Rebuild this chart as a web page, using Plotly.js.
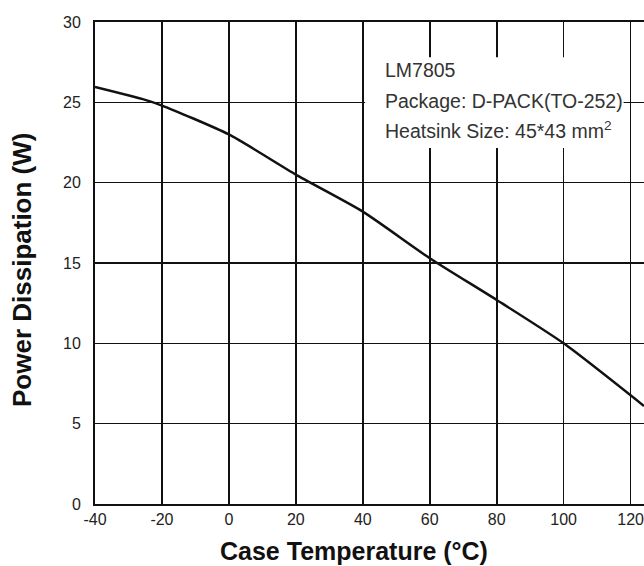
<!DOCTYPE html>
<html>
<head>
<meta charset="utf-8">
<script src="https://cdn.plot.ly/plotly-3.0.1.min.js"></script>
<style>html,body{margin:0;padding:0;background:#fff;}#chart{width:644px;height:566px;}</style>
</head>
<body>
<div id="chart"></div>
<script>
// Data
const caseTemperature = [-40, -25, -20, 0, 20, 40, 60, 80, 100, 124];
const powerDissipation = [25.95, 25.15, 24.8, 23.0, 20.5, 18.2, 15.3, 12.7, 10.0, 6.1];
const xTickValues = [-40, -20, 0, 20, 40, 60, 80, 100, 120];
const yTickValues = [0, 5, 10, 15, 20, 25, 30];
const infoLines = ["LM7805", "Package: D-PACK(TO-252)", "Heatsink Size: 45*43 mm<sup>2</sup>"];

const sans = '"Liberation Sans", Arial, sans-serif';

const L = 95, R = 0, T = 22, B = 62, W = 644, H = 566;
const pw = W - L - R, ph = H - T - B;

const trace = {
  x: caseTemperature, y: powerDissipation, type: 'scatter', mode: 'lines',
  line: {color: '#111', width: 2.5, shape: 'spline', smoothing: 0.6},
  hoverinfo: 'skip', showlegend: false
};

const infoY = [27.0, 25.1, 23.25];
const annotations = infoLines.map((t, i) => ({
  x: 46, y: infoY[i], xref: 'x', yref: 'y', text: t, showarrow: false,
  xanchor: 'left', yanchor: 'middle', align: 'left',
  font: {family: sans, size: 19.5, color: '#333'}
}));
annotations.push({
  x: (354 - L) / pw, y: (H - B - 551) / ph, xref: 'paper', yref: 'paper',
  xanchor: 'center', yanchor: 'middle',
  text: '<b>Case Temperature (°C)</b>', showarrow: false,
  font: {family: sans, size: 25, color: '#111'}
});
annotations.push({
  x: (22 - L) / pw, y: (H - B - 270) / ph, xref: 'paper', yref: 'paper',
  xanchor: 'center', yanchor: 'middle',
  text: '<b>Power Dissipation (W)</b>', showarrow: false, textangle: -90,
  font: {family: sans, size: 26, color: '#111'}
});

const layout = {
  width: W, height: H,
  margin: {l: L, r: R, t: T, b: B, pad: 0},
  paper_bgcolor: '#fff', plot_bgcolor: '#fff',
  showlegend: false,
  xaxis: {
    range: [-40, 124], tickvals: xTickValues, ticktext: xTickValues.map(String),
    showgrid: true, gridcolor: '#111', gridwidth: 1.6,
    showline: true, linecolor: '#111', linewidth: 2, mirror: true,
    zeroline: false, ticks: '', ticklabelstandoff: 0, ticklabeloverflow: 'allow',
    tickfont: {family: sans, size: 16, color: '#222'}
  },
  yaxis: {
    range: [0, 30], tickvals: yTickValues,
    showgrid: true, gridcolor: '#111', gridwidth: 1.6,
    showline: true, linecolor: '#111', linewidth: 2,
    zeroline: false, ticks: '', ticklabelstandoff: 9,
    tickfont: {family: sans, size: 16, color: '#222'}
  },
  shapes: [{
    type: 'rect', xref: 'x', yref: 'y', x0: 40.7, x1: 117.9, y0: 22.15, y1: 27.8,
    fillcolor: '#fff', line: {width: 0}, layer: 'above'
  }],
  annotations: annotations
};

Plotly.newPlot('chart', [trace], layout, {staticPlot: true, displayModeBar: false});
</script>
</body>
</html>
